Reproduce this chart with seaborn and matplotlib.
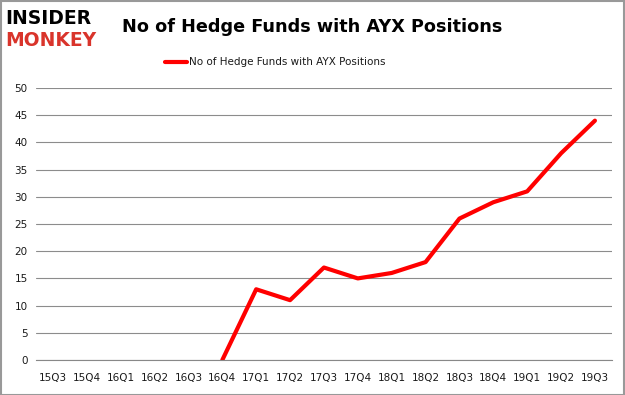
import matplotlib
matplotlib.use("Agg")
import matplotlib.pyplot as plt
import seaborn as sns
import pandas as pd
import numpy as np

quarters = ["15Q3", "15Q4", "16Q1", "16Q2", "16Q3", "16Q4", "17Q1", "17Q2", "17Q3",
            "17Q4", "18Q1", "18Q2", "18Q3", "18Q4", "19Q1", "19Q2", "19Q3"]
funds = [np.nan, np.nan, np.nan, np.nan, np.nan, 0, 13, 11, 17,
         15, 16, 18, 26, 29, 31, 38, 44]
series_name = "No of Hedge Funds with AYX Positions"

df = pd.DataFrame({"pos": np.arange(len(quarters)), "quarter": quarters, "funds": funds})

sns.set_style("white")
plt.rcParams['font.family'] = ['DejaVu Sans']

fig = plt.figure(figsize=(6.25, 3.95), dpi=100)
ax = fig.add_axes([0.0576, 0.0886, 0.9214, 0.6886])

sns.lineplot(data=df, x="pos", y="funds", color="#ff0000", linewidth=3, ax=ax, legend=False)

ax.set_xlim(-0.5, len(quarters) - 0.5)
ax.set_ylim(0, 50)
ax.set_yticks(range(0, 51, 5))
ax.set_xticks(df["pos"])
ax.set_xticklabels(quarters)
ax.set_xticks(np.arange(-0.5, len(quarters), 1), minor=True)
ax.tick_params(axis="x", which="major", length=0, labelsize=7.5, pad=9, labelcolor="#1a1a1a")
ax.tick_params(axis="x", which="minor", length=5, color="#888888", width=0.8)
ax.tick_params(axis="y", length=0, labelsize=7.5, pad=6, labelcolor="#1a1a1a")
ax.yaxis.grid(True, color="#8c8c8c", linewidth=0.8)
ax.set_axisbelow(True)
for side in ["top", "right", "left"]:
    ax.spines[side].set_visible(False)
ax.spines["bottom"].set_color("#888888")
ax.set_xlabel("")
ax.set_ylabel("")

# title and legend
fig.text(0.499, 0.932, series_name, ha="center", va="center", fontsize=12.7,
         fontweight="bold", color="black")
fig.add_artist(plt.Line2D([0.264, 0.299], [0.843, 0.843], color="#ff0000", linewidth=3))
fig.text(0.302, 0.843, series_name, ha="left", va="center", fontsize=7.5, color="#1a1a1a")

# logo
fig.text(0.008, 0.952, "INSIDER", ha="left", va="center", fontsize=13.5, fontweight="heavy", color="black")
fig.text(0.008, 0.898, "MONKEY", ha="left", va="center", fontsize=13.5, fontweight="heavy", color="#d9342b")

# grey border
fig.add_artist(plt.Rectangle((0.001, 0.001), 0.997, 0.997, fill=False, edgecolor="#999999",
                             linewidth=1.5, transform=fig.transFigure))

fig.savefig("out.png", dpi=100)
